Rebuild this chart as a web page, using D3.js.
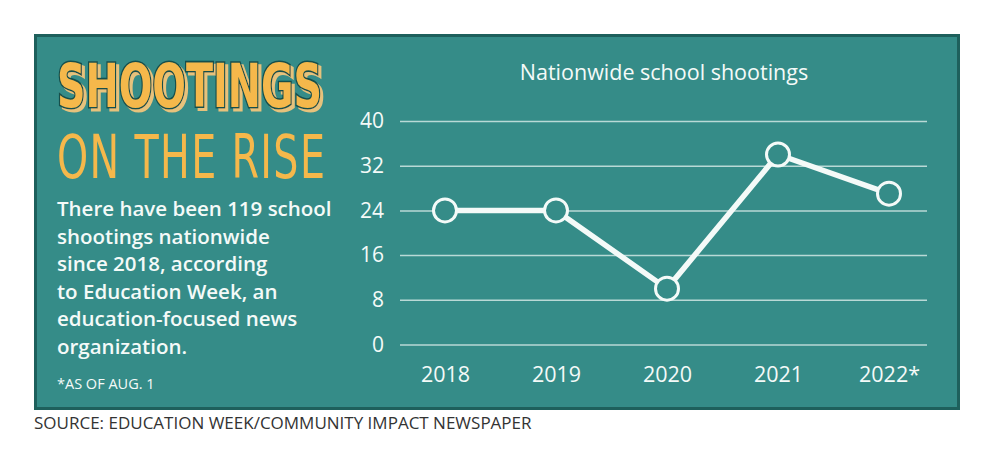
<!DOCTYPE html>
<html><head><meta charset="utf-8">
<script src="https://cdn.jsdelivr.net/npm/d3@7"></script>
<style>html,body{margin:0;padding:0;background:#fff;}svg{display:block;}</style>
</head><body>
<svg id="c" width="1000" height="449"></svg>
<script>
const years = ["2018","2019","2020","2021","2022*"];
const shootings = [24, 24, 10, 34, 27];
const yTicks = [0, 8, 16, 24, 32, 40];
const bodyLines = ["There have been 119 school","shootings nationwide","since 2018, according","to Education Week, an","education-focused news","organization."];

const svg = d3.select("#c");
const teal = "#358c88", dark = "#1e605c", yellow = "#f5b84b", white = "#f4faf8";

svg.append("rect").attr("x",35.5).attr("y",35.5).attr("width",923).attr("height",373)
  .attr("fill",teal).attr("stroke",dark).attr("stroke-width",3);

// Title block: one text with two lines, fitted by a horizontal scale
const defs = svg.append("defs");
const f = defs.append("filter").attr("id","sh").attr("filterUnits","userSpaceOnUse")
  .attr("primitiveUnits","userSpaceOnUse")
  .attr("x",-50).attr("y",-100).attr("width",1000).attr("height",200);
f.append("feOffset").attr("in","SourceAlpha").attr("dx",3.5).attr("dy",2.5).attr("result","off");
f.append("feFlood").attr("flood-color","#e6c27c").attr("x",-50).attr("y",-100).attr("width",1000).attr("height",112).attr("result","fl");
f.append("feComposite").attr("in","fl").attr("in2","off").attr("operator","in").attr("result","shadow");
const fm = f.append("feMerge");
fm.append("feMergeNode").attr("in","shadow");
fm.append("feMergeNode").attr("in","SourceGraphic");

const tg = svg.append("g");
const tt = tg.append("text").attr("font-family","DejaVu Sans Condensed, DejaVu Sans")
  .attr("font-size",60).attr("fill",yellow).attr("filter","url(#sh)");
const ts1 = tt.append("tspan").attr("x",0).attr("y",0).text("SHOOTINGS")
  .attr("font-weight","bold").attr("stroke","#174f4c").attr("stroke-width",3.2).attr("paint-order","stroke");
const ts2 = tt.append("tspan").attr("x",0).attr("y",71).text("ON THE RISE");
const w1 = ts1.node().getComputedTextLength();
const s = 265 / w1;
const w2 = ts2.node().getComputedTextLength();
ts2.attr("letter-spacing", (268 / s - w2) / 10);
tg.attr("transform", `translate(57,107) scale(${s},1)`);

// Body text
svg.append("g").selectAll("text").data(bodyLines).join("text")
  .attr("x",57).attr("y",(d,i)=>216+i*27.6).text(d=>d)
  .attr("font-family","Open Sans").attr("font-weight",600).attr("font-size",20.5)
  .attr("fill",white);

svg.append("text").attr("x",57).attr("y",389).text("*AS OF AUG. 1")
  .attr("font-family","Open Sans").attr("font-weight",500).attr("font-size",14.5).attr("fill",white);

svg.append("text").attr("x",34).attr("y",429).text("SOURCE: EDUCATION WEEK/COMMUNITY IMPACT NEWSPAPER")
  .attr("font-family","Open Sans").attr("font-size",17).attr("fill","#333");

// Chart
const x = d3.scalePoint().domain(years).range([445, 889]);
const y = d3.scaleLinear().domain([0,40]).range([344.5, 121]);

svg.append("text").attr("x",664).attr("y",80).attr("text-anchor","middle")
  .text("Nationwide school shootings")
  .attr("font-family","Open Sans").attr("font-weight",500).attr("font-size",21.5).attr("fill",white);

const yAxis = svg.append("g").attr("transform","translate(400,0)")
  .call(d3.axisLeft(y).tickValues(yTicks).tickSize(-527).tickPadding(16));
yAxis.select(".domain").remove();
yAxis.selectAll("line").attr("stroke","#b9d9d6").attr("stroke-width",1.5);
yAxis.selectAll("text").attr("font-family","Open Sans").attr("font-size",21).attr("fill",white);

const xAxis = svg.append("g").attr("transform","translate(0,344.5)")
  .call(d3.axisBottom(x).tickSize(0).tickPadding(22));
xAxis.select(".domain").remove();
xAxis.selectAll("text").attr("font-family","Open Sans").attr("font-size",21.5).attr("fill",white);

const data = years.map((d,i)=>({year:d, v:shootings[i]}));
svg.append("path").datum(data)
  .attr("d", d3.line().x(d=>x(d.year)).y(d=>y(d.v)))
  .attr("fill","none").attr("stroke",white).attr("stroke-width",5.5).attr("stroke-linejoin","round");
svg.append("g").selectAll("circle").data(data).join("circle")
  .attr("cx",d=>x(d.year)).attr("cy",d=>y(d.v)).attr("r",11.5)
  .attr("fill",teal).attr("stroke",white).attr("stroke-width",3);
</script>
</body></html>
